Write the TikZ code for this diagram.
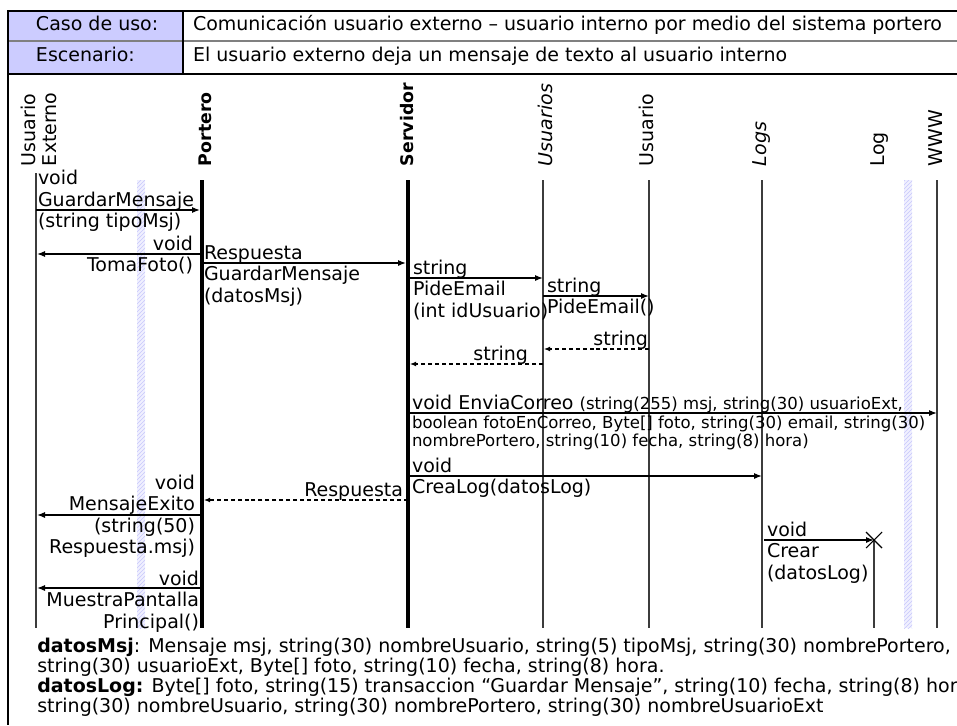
\documentclass[tikz,border=0pt]{standalone}
\usepackage{fontspec}
\setmainfont{DejaVu Sans}
\usetikzlibrary{arrows.meta,patterns,calc}

\definecolor{hdrfill}{RGB}{204,204,255}
\definecolor{hatchline}{RGB}{200,200,252}
\definecolor{hatchbg}{RGB}{240,240,255}
\definecolor{sepgray}{RGB}{128,128,128}
\definecolor{lifegray}{RGB}{60,60,60}

% lifeline positions
\def\xUE{36}
\def\xPo{202}
\def\xSe{408}
\def\xUs{543}
\def\xU{649}
\def\xLs{762}
\def\xL{874}
\def\xW{937}
\def\yTop{180}
\def\yBot{628}
\newcommand\mainsize{\fontsize{14.25}{15.4}\selectfont}
\newcommand\argsize{\fontsize{12.4}{14}\selectfont}

\begin{document}
\begin{tikzpicture}[x=0.75pt,y=-0.75pt,
  txt/.style={inner sep=0pt, outer sep=0pt, font=\mainsize},
  lw/.style={txt, anchor=base west},
  le/.style={txt, anchor=base east},
  headlbl/.style={txt, rotate=90, anchor=base west},
  boldhead/.style={headlbl, font=\fontsize{13}{15}\selectfont\bfseries},
  ithead/.style={headlbl, font=\mainsize\itshape},
  life/.style={line width=0.8pt, lifegray},
  lifebold/.style={line width=2.3pt, black},
  call/.style={line width=1pt, -{Latex[length=6pt,width=4.6pt]}},
  reply/.style={line width=0.8pt, dash pattern=on 3pt off 2.2pt, -{Latex[length=4.5pt,width=3.6pt]}},
  band/.style={pattern=north east lines, pattern color=hatchline},
  notes/.style={inner sep=0pt, anchor=base west, font=\mainsize}
]
\useasboundingbox (0,0) rectangle (957,725);

% ---- header table ----
\fill[hdrfill] (8,11) rectangle (183,74);
\draw[sepgray, line width=1.5pt] (8,41) -- (957,41);
\draw[line width=1.2pt] (8,74) -- (957,74);
\draw[line width=0.8pt] (183,11) -- (183,74);
\draw[line width=2pt] (7,11) -- (957,11);
\draw[line width=2pt] (8,10) -- (8,725);
\node[lw] (casoL) at (36,30) {Caso de uso:};
\node[lw] (casoT) at (193,30) {Comunicación usuario externo – usuario interno por medio del sistema portero};
\node[lw] (escL) at (36,61.5) {Escenario:};
\node[lw] (escT) at (193,61.5) {El usuario externo deja un mensaje de texto al usuario interno};

% ---- object headings ----
\node[headlbl, align=left] (hUE) at (56,166) {Usuario\\Externo};
\node[boldhead] (hPo) at (211,166) {Portero};
\node[boldhead] (hSe) at (413.5,166) {Servidor};
\node[ithead] (hUs) at (552,166) {Usuarios};
\node[headlbl] (hU) at (653.5,166) {Usuario};
\node[ithead] (hLs) at (766,166) {Logs};
\node[headlbl] (hL) at (884,166) {Log};
\node[headlbl] (hW) at (942,166) {WWW};

% ---- activation bands ----
\fill[hatchbg] (137,\yTop) rectangle (145,\yBot);
\fill[band] (137,\yTop) rectangle (145,\yBot);
\fill[hatchbg] (904,\yTop) rectangle (912,\yBot);
\fill[band] (904,\yTop) rectangle (912,\yBot);

% ---- lifelines ----
\coordinate (ueT) at (\xUE,173);  \coordinate (ueB) at (\xUE,\yBot);
\coordinate (poT) at (\xPo,\yTop); \coordinate (poB) at (\xPo,\yBot);
\coordinate (seT) at (\xSe,\yTop); \coordinate (seB) at (\xSe,\yBot);
\coordinate (usT) at (\xUs,\yTop); \coordinate (usB) at (\xUs,\yBot);
\coordinate (uT) at (\xU,\yTop);   \coordinate (uB) at (\xU,\yBot);
\coordinate (lsT) at (\xLs,\yTop); \coordinate (lsB) at (\xLs,\yBot);
\coordinate (lT) at (\xL,540);     \coordinate (lB) at (\xL,\yBot);
\coordinate (wT) at (\xW,\yTop);   \coordinate (wB) at (\xW,\yBot);
\draw[life] (ueT) -- (ueB);
\draw[lifebold] (poT) -- (poB);
\draw[lifebold] (seT) -- (seB);
\draw[life] (usT) -- (usB);
\draw[life] (uT) -- (uB);
\draw[life] (lsT) -- (lsB);
\draw[life] (lT) -- (lB);
\draw[life] (wT) -- (wB);

% ---- messages ----
% GuardarMensaje
\coordinate (m1s) at (\xUE,210); \coordinate (m1e) at (200,210);
\draw[call] (m1s) -- (m1e);
\node[lw] (m1a) at (38,184.5) {void};
\node[lw] (m1b) at (38,206) {GuardarMensaje};
\node[lw] (m1c) at (38,227.5) {(string tipoMsj)};

% TomaFoto
\coordinate (m2s) at (\xPo,254); \coordinate (m2e) at (37,254);
\draw[call] (m2s) -- (m2e);
\node[le] (m2a) at (193,250) {void};
\node[le] (m2b) at (193,271.5) {TomaFoto()};

% Respuesta GuardarMensaje
\coordinate (m3s) at (\xPo,263); \coordinate (m3e) at (406,263);
\draw[call] (m3s) -- (m3e);
\node[lw] (m3a) at (204,259) {Respuesta};
\node[lw] (m3b) at (204,280.5) {GuardarMensaje};
\node[lw] (m3c) at (204,302) {(datosMsj)};

% PideEmail (int idUsuario)
\coordinate (m4s) at (\xSe,278); \coordinate (m4e) at (\xUs,278);
\draw[call] (m4s) -- (m4e);
\node[lw] (m4a) at (413,274) {string};
\node[lw] (m4b) at (413,295.5) {PideEmail};
\node[lw] (m4c) at (413,317) {(int idUsuario)};

% PideEmail()
\coordinate (m5s) at (\xUs,296); \coordinate (m5e) at (\xU,296);
\draw[call] (m5s) -- (m5e);
\node[lw] (m5a) at (547,292) {string};
\node[lw] (m5b) at (547,313.5) {PideEmail()};

% returns
\coordinate (m6s) at (\xU,349); \coordinate (m6e) at (544,349);
\draw[reply] (m6s) -- (m6e);
\node[le] (m6a) at (648,345) {string};
\coordinate (m7s) at (\xUs,364); \coordinate (m7e) at (410,364);
\draw[reply] (m7s) -- (m7e);
\node[le] (m7a) at (528,360) {string};

% EnviaCorreo
\coordinate (m8s) at (\xSe,413); \coordinate (m8e) at (\xW,413);
\draw[call] (m8s) -- (m8e);
\node[lw] (m8a) at (412,409) {void EnviaCorreo \argsize(string(255) msj, string(30) usuarioExt,};
\node[lw, font=\argsize] (m8b) at (412,428) {boolean fotoEnCorreo, Byte[] foto, string(30) email, string(30)};
\node[lw, font=\argsize] (m8c) at (412,446.5) {nombrePortero, string(10) fecha, string(8) hora)};

% CreaLog
\coordinate (m9s) at (\xSe,476); \coordinate (m9e) at (\xLs,476);
\draw[call] (m9s) -- (m9e);
\node[lw] (m9a) at (412,472) {void};
\node[lw] (m9b) at (412,493.5) {CreaLog(datosLog)};

% Respuesta (return)
\coordinate (m10s) at (\xSe,500); \coordinate (m10e) at (204,500);
\draw[reply] (m10s) -- (m10e);
\node[le] (m10a) at (403,496) {Respuesta};

% MensajeExito
\coordinate (m11s) at (\xPo,515); \coordinate (m11e) at (37,515);
\draw[call] (m11s) -- (m11e);
\node[le] (m11a) at (195,489) {void};
\node[le] (m11b) at (195,510.5) {MensajeExito};
\node[le] (m11c) at (195,532) {(string(50)};
\node[le] (m11d) at (195,553.5) {Respuesta.msj)};

% MuestraPantallaPrincipal
\coordinate (m12s) at (200,588); \coordinate (m12e) at (37,588);
\draw[call] (m12s) -- (m12e);
\node[le] (m12a) at (199,585) {void};
\node[le] (m12b) at (199,606.5) {MuestraPantalla};
\node[le] (m12c) at (199,628) {Principal()};

% Crear (datosLog) with creation mark
\coordinate (m13s) at (764,540); \coordinate (m13e) at (\xL,540);
\draw[call] (m13s) -- (m13e);
\draw[line width=0.8pt] ($(m13e)+(-8,-8)$) -- ($(m13e)+(8,8)$);
\draw[line width=0.8pt] ($(m13e)+(-8,8)$) -- ($(m13e)+(8,-8)$);
\node[lw] (m13a) at (767,536) {void};
\node[lw] (m13b) at (767,557.5) {Crear};
\node[lw] (m13c) at (767,579) {(datosLog)};

% ---- data definitions ----
\node[notes] (n1) at (37,652.5) {\textbf{datosMsj}: Mensaje msj, string(30) nombreUsuario, string(5) tipoMsj, string(30) nombrePortero,};
\node[notes] (n2) at (37,672.5) {string(30) usuarioExt, Byte[] foto, string(10) fecha, string(8) hora.};
\node[notes] (n3) at (37,692.5) {\textbf{datosLog:} Byte[] foto, string(15) transaccion “Guardar Mensaje”, string(10) fecha, string(8) hora};
\node[notes] (n4) at (37,712.5) {string(30) nombreUsuario, string(30) nombrePortero, string(30) nombreUsuarioExt};
\end{tikzpicture}
\end{document}
